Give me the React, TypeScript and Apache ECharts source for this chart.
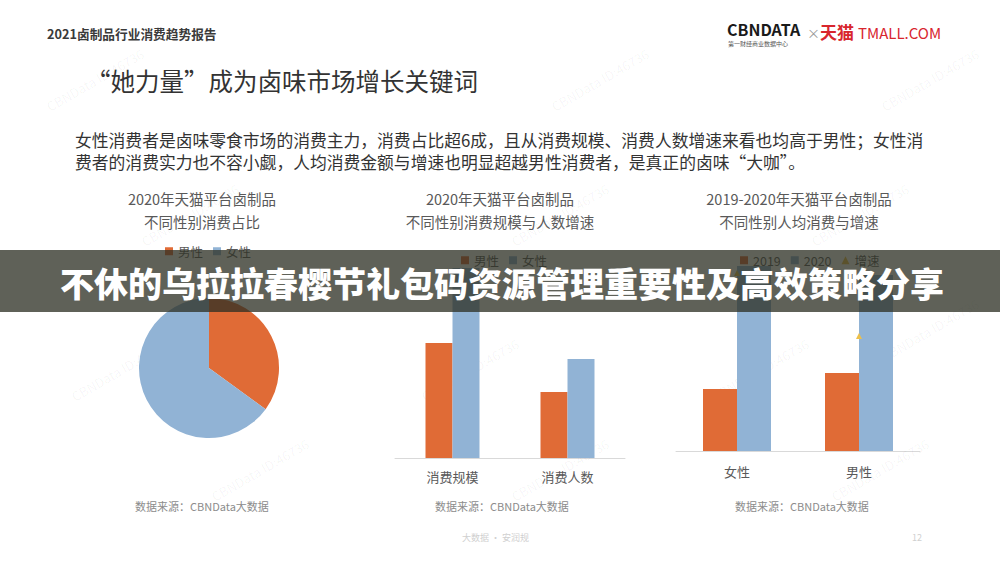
import React, { useEffect, useRef } from "react";
import * as echarts from "echarts";

const ORANGE = "#E06B36";
const BLUE = "#91B3D5";
const YELLOW = "#EDC04A";

const pieNames = ["男性", "女性"];
const pieShare = [35, 65];

const scaleCats = ["消费规模", "消费人数"];
const scaleMale = [115, 66];
const scaleFemale = [190, 99];

const spendCats = ["女性", "男性"];
const spend2019 = [62, 78];
const spend2020 = [185, 176];
const spendGrowth = [178, 115];

const headerText = "2021卤制品行业消费趋势报告";
const titleText = "“她力量”成为卤味市场增长关键词";
const bodyLines = [
  "女性消费者是卤味零食市场的消费主力，消费占比超6成，且从消费规模、消费人数增速来看也均高于男性；女性消",
  "费者的消费实力也不容小觑，人均消费金额与增速也明显超越男性消费者，是真正的卤味“大咖”。",
];
const chartTitles = [
  ["2020年天猫平台卤制品", "不同性别消费占比"],
  ["2020年天猫平台卤制品", "不同性别消费规模与人数增速"],
  ["2019-2020年天猫平台卤制品", "不同性别人均消费与增速"],
];
const sourceText = "数据来源：CBNData大数据";
const bannerText = "不休的乌拉拉春樱节礼包码资源管理重要性及高效策略分享";

const FONT = '"Noto Sans CJK SC", "Noto Sans", sans-serif';

export default function App() {
  const ref = useRef<HTMLDivElement>(null);
  useEffect(() => {
    if (!ref.current) return;
    const chart = echarts.init(ref.current, null, { renderer: "svg" });

    const titleCenters = [202, 500, 799];
    const sourceX = [135, 435, 735];

    const graphics: any[] = [];
    const txt = (text: string, x: number, y: number, size: number, fill: string, opts: any = {}) => ({
      type: "text",
      x,
      y,
      z: opts.z ?? 10,
      rotation: opts.rotation ?? 0,
      style: {
        text,
        fill,
        font: `${opts.weight ?? "normal"} ${size}px ${FONT}`,
        textAlign: opts.align ?? "left",
        textVerticalAlign: "middle",
      },
    });

    // watermarks
    const wm = [
      [95, 80], [600, 80], [930, 80], [190, 215], [560, 215], [860, 215],
      [120, 370], [470, 370], [760, 370], [930, 330], [260, 470], [560, 470], [880, 470],
    ];
    wm.forEach(([x, y]) =>
      graphics.push(txt("CBNData ID:46736", x, y, 13, "rgba(0,0,0,0.045)", { align: "center", rotation: Math.PI / 6, z: 1 }))
    );

    graphics.push(txt(headerText, 47, 33, 12.7, "#3a3a3a", { weight: "bold" }));
    // logo
    graphics.push(txt("CBNDATA", 727, 29, 16, "#1a1a1a", { weight: "bold" }));
    graphics.push(txt("第一财经商业数据中心", 728, 43, 6, "#555"));
    graphics.push(txt("×", 807, 32, 13, "#999"));
    graphics.push(txt("天猫", 820, 31, 17, "#D8262E", { weight: "bold" }));
    graphics.push(txt("TMALL.COM", 858, 32, 15, "#D8262E"));

    graphics.push(txt(titleText, 86, 80, 24.5, "#333"));
    graphics.push(txt(bodyLines[0], 75, 140, 16.8, "#333"));
    graphics.push(txt(bodyLines[1], 75, 162, 16.8, "#333"));

    chartTitles.forEach((lines, i) => {
      graphics.push(txt(lines[0], titleCenters[i], 198, 14.5, "#595959", { align: "center" }));
      graphics.push(txt(lines[1], titleCenters[i], 221, 14.5, "#595959", { align: "center" }));
      graphics.push(txt(sourceText, sourceX[i], 506, 11, "#8c8c8c"));
    });

    graphics.push(txt("大数据 · 安润规", 462, 537, 9, "#d0d0d0"));
    graphics.push(txt("12", 912, 537, 9, "#d0d0d0"));

    // banner
    graphics.push({
      type: "rect",
      z: 100,
      shape: { x: 0, y: 250, width: 1000, height: 62 },
      style: { fill: "rgba(45,47,35,0.76)" },
    });
    graphics.push(txt(bannerText, 502, 282, 34, "#ffffff", { align: "center", weight: 900, z: 101 }));

    const legendBase = {
      itemWidth: 8,
      itemHeight: 8,
      itemGap: 10,
      textStyle: { fontSize: 12.5, color: "#595959", fontFamily: FONT },
    };

    chart.setOption({
      animation: false,
      backgroundColor: "#ffffff",
      textStyle: { fontFamily: FONT },
      graphic: graphics,
      legend: [
        { ...legendBase, data: pieNames.map((n) => ({ name: n, icon: "rect" })), left: 160, top: 240 },
        { ...legendBase, data: ["男性", "女性"].map((n) => ({ name: n, icon: "rect" })), left: 456, top: 249 },
        {
          ...legendBase,
          data: [
            { name: "2019", icon: "rect" },
            { name: "2020", icon: "rect" },
            { name: "增速", icon: "triangle" },
          ],
          left: 735,
          top: 249,
        },
      ],
      grid: [
        { left: 395, width: 230, top: 258, height: 200, containLabel: false },
        { left: 676, width: 244, top: 251, height: 200, containLabel: false },
      ],
      xAxis: [
        {
          type: "category",
          gridIndex: 0,
          data: scaleCats,
          axisLine: { lineStyle: { color: "#d9d9d9" } },
          axisTick: { show: false },
          axisLabel: { color: "#595959", fontSize: 13, margin: 12 },
        },
        {
          type: "category",
          gridIndex: 1,
          data: spendCats,
          axisLine: { lineStyle: { color: "#d9d9d9" } },
          axisTick: { show: false },
          axisLabel: { color: "#595959", fontSize: 13, margin: 14 },
        },
      ],
      yAxis: [
        { type: "value", gridIndex: 0, min: 0, max: 200, show: false },
        { type: "value", gridIndex: 1, min: 0, max: 200, show: false },
      ],
      series: [
        {
          type: "pie",
          center: [209, 368],
          radius: 70,
          startAngle: 90,
          clockwise: true,
          label: { show: false },
          labelLine: { show: false },
          data: pieNames.map((n, i) => ({
            name: n,
            value: pieShare[i],
            itemStyle: { color: i === 0 ? ORANGE : BLUE },
          })),
        },
        {
          name: "男性",
          type: "bar",
          xAxisIndex: 0,
          yAxisIndex: 0,
          data: scaleMale,
          barWidth: 27,
          barGap: "0%",
          itemStyle: { color: ORANGE },
        },
        {
          name: "女性",
          type: "bar",
          xAxisIndex: 0,
          yAxisIndex: 0,
          data: scaleFemale,
          barWidth: 27,
          barGap: "0%",
          itemStyle: { color: BLUE },
        },
        {
          name: "2019",
          type: "bar",
          xAxisIndex: 1,
          yAxisIndex: 1,
          data: spend2019,
          barWidth: 34,
          barGap: "0%",
          itemStyle: { color: ORANGE },
        },
        {
          name: "2020",
          type: "bar",
          xAxisIndex: 1,
          yAxisIndex: 1,
          data: spend2020,
          barWidth: 34,
          barGap: "0%",
          itemStyle: { color: BLUE },
        },
        {
          name: "增速",
          type: "line",
          xAxisIndex: 1,
          yAxisIndex: 1,
          data: spendGrowth,
          symbol: "triangle",
          symbolSize: 6,
          showSymbol: true,
          lineStyle: { opacity: 0 },
          itemStyle: { color: YELLOW },
          z: 5,
        },
      ],
    });
    return () => chart.dispose();
  }, []);
  return (
    <div
      ref={ref}
      style={{ position: "fixed", left: 0, top: 0, width: 1000, height: 563, background: "#fff" }}
    />
  );
}
